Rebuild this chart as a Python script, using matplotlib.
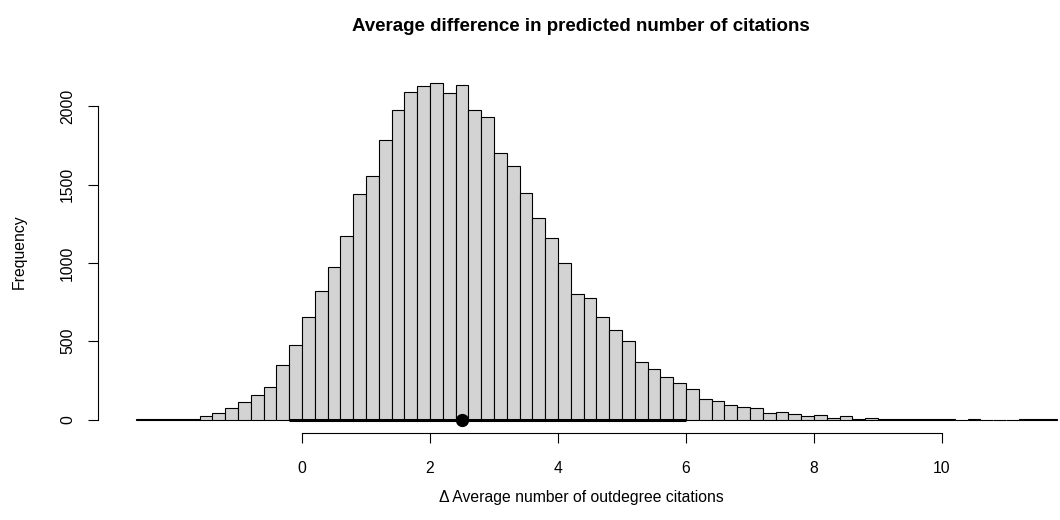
import numpy as np
import matplotlib
matplotlib.use("Agg")
import matplotlib.pyplot as plt

plt.rcParams['font.family'] = ['Liberation Sans', 'DejaVu Sans']

# histogram of bootstrap differences, bins of width 0.2 starting at -2.6
bin_start = -2.6
bin_width = 0.2
counts = [
    1, 1, 1, 5, 6, 20, 40, 73, 110, 156, 205, 350, 475,
    654, 820, 971, 1169, 1437, 1553, 1783, 1975, 2094, 2130,
    2149, 2087, 2139, 1977, 1932, 1700, 1619, 1447, 1287, 1156,
    1000, 801, 779, 654, 571, 501, 369, 322, 274, 236,
    198, 134, 116, 95, 80, 75, 41, 49, 37, 22,
    27, 12, 20, 5, 10, 5, 6, 5, 3, 2,
    2, 0, 1, 0, 0, 0, 1, 1, 1,
]

# point estimate and interval drawn on the baseline
estimate = 2.5
interval = [-0.2, 6.0]

x_ticks = [0, 2, 4, 6, 8, 10]
y_ticks = [0, 500, 1000, 1500, 2000]

W, H = 1060, 520
fig = plt.figure(figsize=(W / 100, H / 100), dpi=100)
left, right, top, bottom = 98.5, 1063.6, 69.5, 433.0
ax = fig.add_axes([left / W, 1 - bottom / H, (right - left) / W, (bottom - top) / H])

lefts = bin_start + bin_width * np.arange(len(counts))
ax.bar(lefts, counts, width=bin_width, align='edge',
       facecolor='#d3d3d3', edgecolor='black', linewidth=0.8)

ax.plot(interval, [0, 0], color='black', linewidth=2.2, solid_capstyle='butt')
ax.plot([estimate], [0], 'o', color='black', markersize=8.5)

ax.set_xlim(-3.18, 11.9)
ax.set_ylim(-86, 2235)

for side in ['top', 'right']:
    ax.spines[side].set_visible(False)
ax.spines['left'].set_bounds(0, 2000)
ax.spines['bottom'].set_bounds(0, 10)
ax.spines['left'].set_linewidth(0.8)
ax.spines['bottom'].set_linewidth(0.8)

ax.set_xticks(x_ticks)
ax.set_xticklabels([str(t) for t in x_ticks])
ax.set_yticks(y_ticks)
ax.set_yticklabels([str(t) for t in y_ticks], rotation=90, va='center')
ax.tick_params(axis='both', length=7, width=0.8, labelsize=11.3)
ax.tick_params(axis='x', pad=13)
ax.tick_params(axis='y', pad=10)

ax.set_title('Average difference in predicted number of citations',
             fontsize=13.5, fontweight='bold', pad=0,
             y=(bottom - 26) / (bottom - top), va='center')

ax.set_xlabel('\u0394 Average number of outdegree citations', fontsize=11.3)
ax.xaxis.set_label_coords(0.5, -(490 - bottom) / (bottom - top))
ax.set_ylabel('Frequency', fontsize=11.3)
ax.yaxis.set_label_coords(-(left - 27) / (right - left), 0.5)

fig.savefig('out.png', dpi=100)
